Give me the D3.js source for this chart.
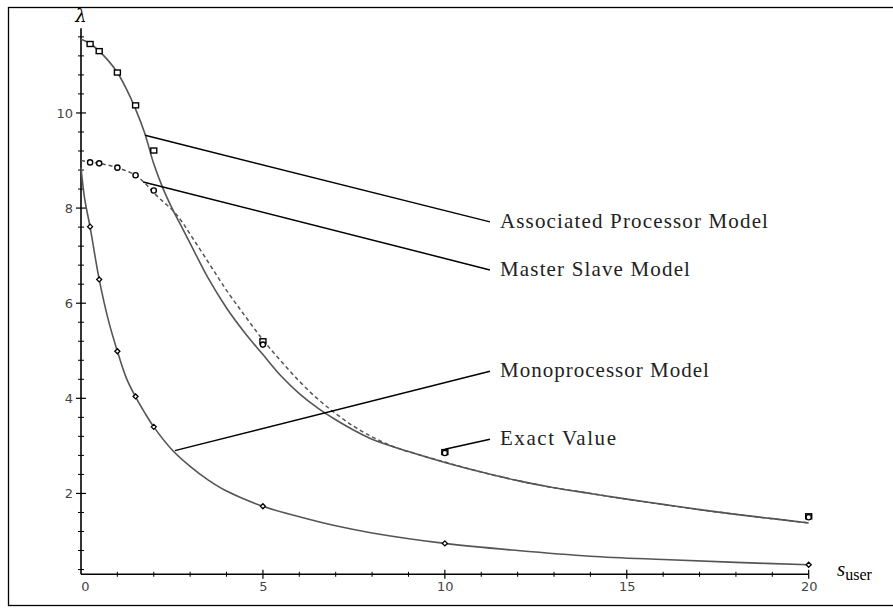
<!DOCTYPE html>
<html>
<head>
<meta charset="utf-8">
<script src="https://cdn.jsdelivr.net/npm/d3@7"></script>
<style>
  html, body { margin: 0; padding: 0; background: #fff; }
  svg { display: block; }
</style>
</head>
<body>
<svg id="chart" width="893" height="613"></svg>
<script>
// ---------------- DATA ----------------
const xTicks = [0, 5, 10, 15, 20];
const yTicks = [2, 4, 6, 8, 10];

// Associated Processor Model (solid)
const assocS = [0, 0.25, 0.5, 0.75, 1, 1.25, 1.5, 1.75, 2, 2.25, 2.5, 2.75, 3, 3.5, 4, 4.5, 5, 5.5, 6, 6.5, 7, 7.5, 8, 9, 10, 11, 12, 13, 14, 15, 16, 17, 18, 19, 20];
const assocV = [11.55, 11.46, 11.3, 11.1, 10.85, 10.5, 10.08, 9.58, 8.93, 8.42, 8.0, 7.63, 7.26, 6.52, 5.9, 5.38, 4.92, 4.47, 4.1, 3.8, 3.55, 3.33, 3.14, 2.88, 2.65, 2.45, 2.27, 2.12, 2.0, 1.88, 1.77, 1.66, 1.56, 1.47, 1.38];

// Master Slave Model (dashed)
const msS = [0, 0.25, 0.5, 0.75, 1, 1.25, 1.5, 1.75, 2, 2.25, 2.5, 2.75, 3, 3.5, 4, 4.5, 5, 5.5, 6, 6.5, 7, 7.5, 8, 8.5, 9, 10, 11, 12, 13, 14, 15, 16, 17, 18, 19, 20];
const msV = [9.0, 8.97, 8.94, 8.9, 8.85, 8.78, 8.69, 8.53, 8.32, 8.14, 7.97, 7.74, 7.45, 6.86, 6.27, 5.74, 5.23, 4.78, 4.36, 3.99, 3.68, 3.41, 3.19, 3.01, 2.88, 2.66, 2.45, 2.27, 2.12, 2.0, 1.88, 1.77, 1.66, 1.56, 1.47, 1.38];

// Monoprocessor Model (solid)
const monoS = [0, 0.1, 0.25, 0.5, 0.75, 1, 1.25, 1.5, 1.75, 2, 2.5, 3, 3.5, 4, 5, 6, 7, 8, 10, 12, 14, 16, 18, 20];
const monoV = [8.85, 8.2, 7.6, 6.5, 5.65, 4.99, 4.42, 4.03, 3.7, 3.4, 2.92, 2.57, 2.28, 2.05, 1.73, 1.51, 1.32, 1.17, 0.95, 0.8, 0.68, 0.61, 0.55, 0.5];

// Exact values (markers)
const exactS = [0.25, 0.5, 1, 1.5, 2, 5, 10, 20];
const exactAssoc = [11.45, 11.3, 10.85, 10.16, 9.21, 5.2, 2.87, 1.52];
const exactMS = [8.96, 8.94, 8.85, 8.69, 8.37, 5.13, 2.85, 1.5];
const exactMono = [7.61, 6.5, 4.99, 4.04, 3.4, 1.73, 0.95, 0.5];

// Labels with leader lines: [s, value] endpoints
const labelTexts = ["Associated Processor Model", "Master Slave Model", "Monoprocessor Model", "Exact Value"];
const leaderFrom = [[1.76, 9.53], [1.71, 8.55], [2.58, 2.9], [10.0, 2.93]];
const leaderTo = [[11.24, 7.71], [11.24, 6.70], [11.24, 4.57], [11.24, 3.14]];
const labelWidths = [268, 190, 209, 116];

// ---------------- CHART ----------------
const svg = d3.select("#chart");
const x = d3.scaleLinear().domain([0, 20]).range([81, 808.7]);
const y = d3.scaleLinear().domain([0.3, 11.78]).range([574.3, 28.3]);

// frame
svg.append("rect").attr("x", 8.5).attr("y", 7.5).attr("width", 892).attr("height", 598)
  .attr("fill", "none").attr("stroke", "#000").attr("stroke-width", 1.3);

const axisColor = "#000";
svg.append("line").attr("x1", x(0)).attr("x2", x(20)).attr("y1", y(0.3)).attr("y2", y(0.3))
  .attr("stroke", axisColor).attr("stroke-width", 1.6);
svg.append("line").attr("x1", x(0)).attr("x2", x(0)).attr("y1", y(0.3)).attr("y2", y(11.78))
  .attr("stroke", axisColor).attr("stroke-width", 1.6);

// x minor / major ticks
const xMinor = d3.range(1, 20).filter(v => v % 5 !== 0);
svg.append("g").selectAll("line").data(xMinor).join("line")
  .attr("x1", d => x(d)).attr("x2", d => x(d))
  .attr("y1", y(0.3) - 2.5).attr("y2", y(0.3) + 2.5)
  .attr("stroke", axisColor).attr("stroke-width", 1);
svg.append("g").selectAll("line").data(xTicks.filter(d => d > 0)).join("line")
  .attr("x1", d => x(d)).attr("x2", d => x(d))
  .attr("y1", y(0.3) - 4.5).attr("y2", y(0.3) + 4.5)
  .attr("stroke", axisColor).attr("stroke-width", 1.2);

// y minor / major ticks
const yMinor = d3.range(1, 30).map(i => +(i * 0.4).toFixed(2)).filter(v => v <= 11.7 && Math.abs(v / 2 - Math.round(v / 2)) > 1e-6);
svg.append("g").selectAll("line").data(yMinor).join("line")
  .attr("x1", x(0) - 3).attr("x2", x(0) + 3)
  .attr("y1", d => y(d)).attr("y2", d => y(d))
  .attr("stroke", axisColor).attr("stroke-width", 1);
svg.append("g").selectAll("line").data(yTicks).join("line")
  .attr("x1", x(0) - 5).attr("x2", x(0) + 5)
  .attr("y1", d => y(d)).attr("y2", d => y(d))
  .attr("stroke", axisColor).attr("stroke-width", 1.2);

// tick labels via d3 axes
const xAxis = d3.axisBottom(x).tickValues(xTicks).tickSize(0).tickPadding(7).tickFormat(d3.format("d"));
const gx = svg.append("g").attr("transform", `translate(0,${y(0.3)})`).call(xAxis);
gx.select(".domain").remove();
gx.selectAll("text").attr("font-family", "DejaVu Sans").attr("font-size", 13).attr("fill", "#444")
  .attr("dx", d => d === 0 ? 4 : 0);

const yAxis = d3.axisLeft(y).tickValues(yTicks).tickSize(0).tickPadding(8).tickFormat(d3.format("d"));
const gy = svg.append("g").attr("transform", `translate(${x(0)},0)`).call(yAxis);
gy.select(".domain").remove();
gy.selectAll("text").attr("font-family", "DejaVu Sans").attr("font-size", 13).attr("fill", "#444");

// axis titles
svg.append("text").attr("x", x(0)).attr("y", 22).attr("text-anchor", "middle")
  .attr("font-family", "DejaVu Serif").attr("font-style", "italic").attr("font-size", 18).text("λ");
const xt = svg.append("text").attr("x", 837).attr("y", 576)
  .attr("font-family", "Liberation Serif").attr("font-size", 21);
xt.append("tspan").attr("font-style", "italic").text("s");
xt.append("tspan").attr("font-size", 16).attr("dy", 4).text("user");

// curves
const line = d3.line().x(d => x(d[0])).y(d => y(d[1])).curve(d3.curveCatmullRom.alpha(0.5));
const curveColor = "#555";
svg.append("path").datum(assocS.map((s, i) => [s, assocV[i]]))
  .attr("d", line).attr("fill", "none").attr("stroke", curveColor).attr("stroke-width", 1.6);
svg.append("path").datum(msS.map((s, i) => [s, msV[i]]))
  .attr("d", line).attr("fill", "none").attr("stroke", curveColor).attr("stroke-width", 1.5)
  .attr("stroke-dasharray", "4,3");
svg.append("path").datum(monoS.map((s, i) => [s, monoV[i]]))
  .attr("d", line).attr("fill", "none").attr("stroke", curveColor).attr("stroke-width", 1.6);

// markers
svg.append("g").selectAll("rect").data(exactS.map((s, i) => [s, exactAssoc[i]])).join("rect")
  .attr("x", d => x(d[0]) - 3).attr("y", d => y(d[1]) - 2.5).attr("width", 6).attr("height", 5)
  .attr("fill", "#fff").attr("stroke", "#000").attr("stroke-width", 1.4);
svg.append("g").selectAll("circle").data(exactS.map((s, i) => [s, exactMS[i]])).join("circle")
  .attr("cx", d => x(d[0])).attr("cy", d => y(d[1])).attr("r", 2.6)
  .attr("fill", "#fff").attr("stroke", "#000").attr("stroke-width", 1.4);
svg.append("g").selectAll("path").data(exactS.map((s, i) => [s, exactMono[i]])).join("path")
  .attr("d", d => { const cx = x(d[0]), cy = y(d[1]); return `M${cx - 2.5},${cy}L${cx},${cy - 2.5}L${cx + 2.5},${cy}L${cx},${cy + 2.5}Z`; })
  .attr("fill", "#fff").attr("stroke", "#000").attr("stroke-width", 1.3);

// leader lines and labels
labelTexts.forEach((t, i) => {
  const f = leaderFrom[i], to = leaderTo[i];
  svg.append("line").attr("x1", x(f[0])).attr("y1", y(f[1])).attr("x2", x(to[0])).attr("y2", y(to[1]))
    .attr("stroke", "#000").attr("stroke-width", 1.5);
  svg.append("text").attr("x", x(to[0]) + 10).attr("y", y(to[1]) + 6)
    .attr("font-family", "Liberation Serif").attr("font-size", 21).attr("fill", "#222")
    .attr("textLength", labelWidths[i]).attr("lengthAdjust", "spacing")
    .text(t);
});
</script>
</body>
</html>
